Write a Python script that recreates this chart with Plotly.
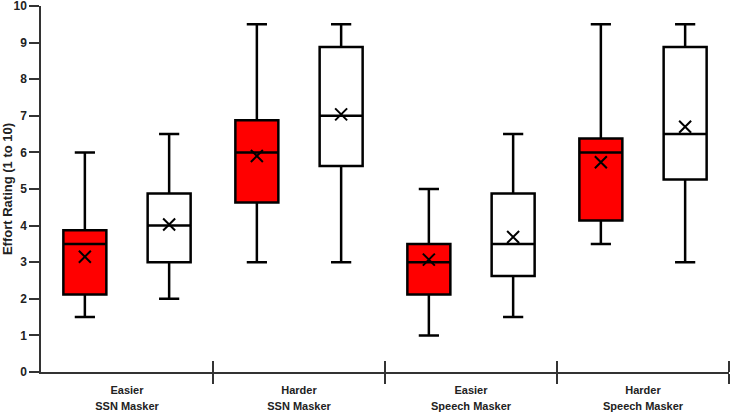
import plotly.graph_objects as go

line1 = ["Easier", "Harder", "Easier", "Harder"]
line2 = ["SSN Masker", "SSN Masker", "Speech Masker", "Speech Masker"]

# Red (first) condition
red_low = [1.5, 3.0, 1.0, 3.5]
red_q1 = [2.12, 4.63, 2.12, 4.14]
red_med = [3.5, 6.0, 3.0, 6.0]
red_q3 = [3.87, 6.88, 3.5, 6.38]
red_high = [6.0, 9.5, 5.0, 9.5]
red_mean = [3.15, 5.9, 3.07, 5.73]

# White (second) condition
white_low = [2.0, 3.0, 1.5, 3.0]
white_q1 = [3.0, 5.63, 2.62, 5.26]
white_med = [4.0, 7.0, 3.5, 6.5]
white_q3 = [4.88, 8.88, 4.88, 8.88]
white_high = [6.5, 9.5, 6.5, 9.5]
white_mean = [4.03, 7.04, 3.69, 6.7]

yticks = list(range(0, 11))

idx = list(range(len(line1)))
off = 0.245
red_x = [i - off for i in idx]
white_x = [i + off for i in idx]

fig = go.Figure()
for xs, lo, q1, md, q3, hi, fill in [
    (red_x, red_low, red_q1, red_med, red_q3, red_high, "#ff0000"),
    (white_x, white_low, white_q1, white_med, white_q3, white_high, "#ffffff"),
]:
    fig.add_trace(go.Box(
        x=xs, lowerfence=lo, q1=q1, median=md, q3=q3, upperfence=hi,
        fillcolor=fill, line=dict(color="black", width=2.5),
        width=0.25, whiskerwidth=0.47, boxpoints=False, showlegend=False,
        hoverinfo="skip",
    ))

for xs, ms in [(red_x, red_mean), (white_x, white_mean)]:
    fig.add_trace(go.Scatter(
        x=xs, y=ms, mode="markers", showlegend=False, hoverinfo="skip",
        marker=dict(symbol="x-thin-open", size=12, color="black", line=dict(color="black", width=2)),
    ))

bounds = [i + 0.5 for i in idx]
font = "Liberation Sans, Arial, sans-serif"
axc = "#333333"

fig.update_layout(
    width=731, height=413,
    margin=dict(l=41, r=2, t=6, b=41),
    plot_bgcolor="white", paper_bgcolor="white",
    boxmode="overlay",
    font=dict(family=font, color="#222222"),
    xaxis=dict(
        range=[-0.5, 3.5], tickvals=idx, ticktext=["<b>%s</b>" % t for t in line1],
        ticks="", showline=True, linecolor=axc, linewidth=1.5, showgrid=False, zeroline=False,
        tickfont=dict(size=11, color="#222222"), automargin=False, ticklabeloverflow="allow",
        ticklabelstandoff=7,
        minor=dict(tickvals=bounds, ticks="outside", ticklen=10, tickwidth=1.5, tickcolor=axc),
    ),
    xaxis2=dict(
        range=[-0.5, 3.5], overlaying="x", anchor="y", side="bottom",
        tickvals=idx, ticktext=["<b>%s</b>" % t for t in line2],
        ticks="", showline=False, showgrid=False, zeroline=False,
        tickfont=dict(size=11, color="#222222"), automargin=False, ticklabeloverflow="allow",
        ticklabelstandoff=26,
        minor=dict(tickvals=bounds, ticks="inside", ticklen=11, tickwidth=1.5, tickcolor=axc),
    ),
    yaxis=dict(
        range=[0, 10], tickvals=yticks, ticktext=["<b>%d</b>" % v for v in yticks],
        ticks="outside", ticklen=10, tickwidth=1.5, tickcolor=axc,
        showline=True, linecolor=axc, linewidth=1.5, showgrid=False, zeroline=False,
        tickfont=dict(size=12, color="#222222"), automargin=False, ticklabeloverflow="allow",
        title=dict(text="<b>Effort Rating (1 to 10)</b>", font=dict(size=13, color="#222222"), standoff=7),
    ),
)
# invisible trace to activate xaxis2
fig.add_trace(go.Scatter(x=[None], y=[None], xaxis="x2", showlegend=False, hoverinfo="skip"))

fig.write_html("out.html", config={"displayModeBar": False},
               post_script="document.body.style.margin='0px';")
